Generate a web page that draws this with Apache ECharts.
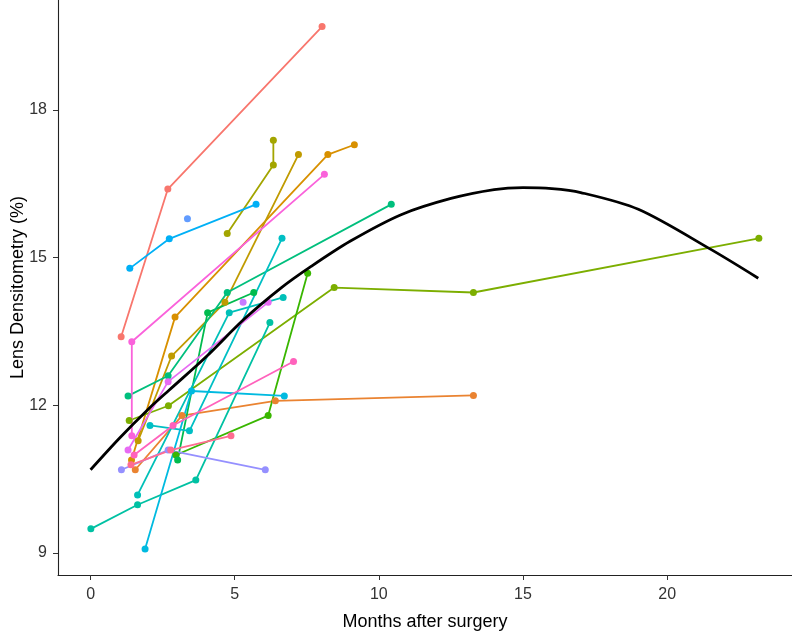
<!DOCTYPE html>
<html><head><meta charset="utf-8">
<script src="https://cdn.jsdelivr.net/npm/echarts@6/dist/echarts.min.js"></script>
<style>html,body{margin:0;padding:0;background:#fff}#c{width:792px;height:633px}</style>
</head><body><div id="c"></div>
<script>
const xTicks = [0, 5, 10, 15, 20];
const yTicks = [9, 12, 15, 18];
const xTitle = 'Months after surgery';
const yTitle = 'Lens Densitometry (%)';

const g01 = [[1.06,13.39],[2.68,16.39],[8.03,19.69]];
const g02 = [[1.55,10.69],[3.17,11.79],[6.41,12.09],[13.28,12.2]];
const g03 = [[1.42,10.89],[2.93,13.79],[8.23,17.09],[9.15,17.29]];
const g04 = [[1.65,11.28],[2.81,13.0],[4.66,14.09],[7.21,17.09]];
const g05 = [[4.74,15.49],[6.34,16.88],[6.34,17.38]];
const g06 = [[1.34,11.69],[2.70,11.99],[8.45,14.39],[13.28,14.29],[23.18,15.39]];
const g07 = [[2.96,10.99],[6.16,11.79],[7.53,14.68]];
const g08 = [[3.02,10.89],[4.06,13.88],[5.66,14.29]];
const g09 = [[1.30,12.19],[2.69,12.6],[4.74,14.29],[10.43,16.08]];
const g10 = [[0.01,9.49],[1.63,9.98],[3.65,10.48],[6.22,13.68]];
const g11 = [[1.63,10.18],[4.81,13.88],[6.68,14.19]];
const g12 = [[2.06,11.59],[3.43,11.48],[6.64,15.39]];
const g13 = [[1.89,9.08],[3.5,12.29],[6.72,12.19]];
const g14 = [[1.36,14.78],[2.73,15.38],[5.74,16.08]];
const g15 = [[3.36,15.79]];
const g16 = [[1.07,10.69],[2.69,11.09],[6.06,10.69]];
const g17 = [[5.29,14.09]];
const g18 = [[1.30,11.09],[2.69,12.48],[6.16,14.09]];
const g19 = [[1.43,11.38],[1.43,13.29],[8.11,16.69]];
const g20 = [[1.51,10.99],[2.86,11.59],[7.04,12.89]];
const g21 = [[1.40,10.79],[2.78,11.09],[4.87,11.38]];

const groups = [g01,g02,g03,g04,g05,g06,g07,g08,g09,g10,g11,g12,g13,g14,g15,g16,g17,g18,g19,g20,g21];
const colors = ['#F8766D','#EA8331','#D89000','#C09B00','#A3A500','#7CAE00','#39B600','#00BB4E','#00BF7D','#00C1A3','#00C0B8','#00BFC4','#00BAE0','#00B0F6','#619CFF','#9590FF','#C77CFF','#E76BF3','#FA62DB','#FF62BC','#FF6C91'];

// fitted curve
const curve = [[0,10.69],[1,11.33],[2,11.92],[2.73,12.31],[4,12.98],[5.33,13.75],[6.6,14.38],[7.65,14.82],[9,15.33],[10.77,15.87],[12.5,16.2],[14,16.38],[15,16.42],[16,16.4],[17,16.32],[19,15.98],[21.53,15.16],[23.16,14.58]];

const series = [];
groups.forEach((d,i)=>{
  series.push({type:'line', data:d, showSymbol:false, symbol:'none', lineStyle:{color:colors[i], width:1.8}, z:2, silent:true, animation:false});
});
groups.forEach((d,i)=>{
  series.push({type:'scatter', data:d, symbol:'circle', symbolSize:7, itemStyle:{color:colors[i], opacity:1}, z:3, silent:true, animation:false});
});
series.push({type:'line', data:curve, smooth:0.3, showSymbol:false, symbol:'none', lineStyle:{color:'#000', width:2.8}, z:4, silent:true, animation:false});

const chart = echarts.init(document.getElementById('c'), null, {renderer:'canvas'});
chart.setOption({
  animation:false,
  grid:{left:58, right:0, top:0, bottom:58, containLabel:false, outerBoundsMode:'none'},
  xAxis:{type:'value', min:-1.13, max:24.33,
    name:xTitle, nameLocation:'middle', nameGap:38, nameMoveOverlap:false,
    nameTextStyle:{fontFamily:'Liberation Sans', fontSize:18, color:'#000'},
    axisLine:{show:true, onZero:false, lineStyle:{color:'#222', width:1.1}},
    axisTick:{show:true, customValues:xTicks, length:5, lineStyle:{color:'#333', width:1}},
    axisLabel:{customValues:xTicks, fontFamily:'Liberation Sans', fontSize:16, color:'#333', margin:12},
    splitLine:{show:false}},
  yAxis:{type:'value', min:8.553, max:20.23,
    name:yTitle, nameLocation:'middle', nameGap:31, nameMoveOverlap:false,
    nameTextStyle:{fontFamily:'Liberation Sans', fontSize:18, color:'#000'},
    axisLine:{show:true, onZero:false, lineStyle:{color:'#222', width:1.1}},
    axisTick:{show:true, customValues:yTicks, length:5, lineStyle:{color:'#333', width:1}},
    axisLabel:{customValues:yTicks, fontFamily:'Liberation Sans', fontSize:16, color:'#333', margin:11},
    splitLine:{show:false}},
  series:series
});
</script></body></html>
